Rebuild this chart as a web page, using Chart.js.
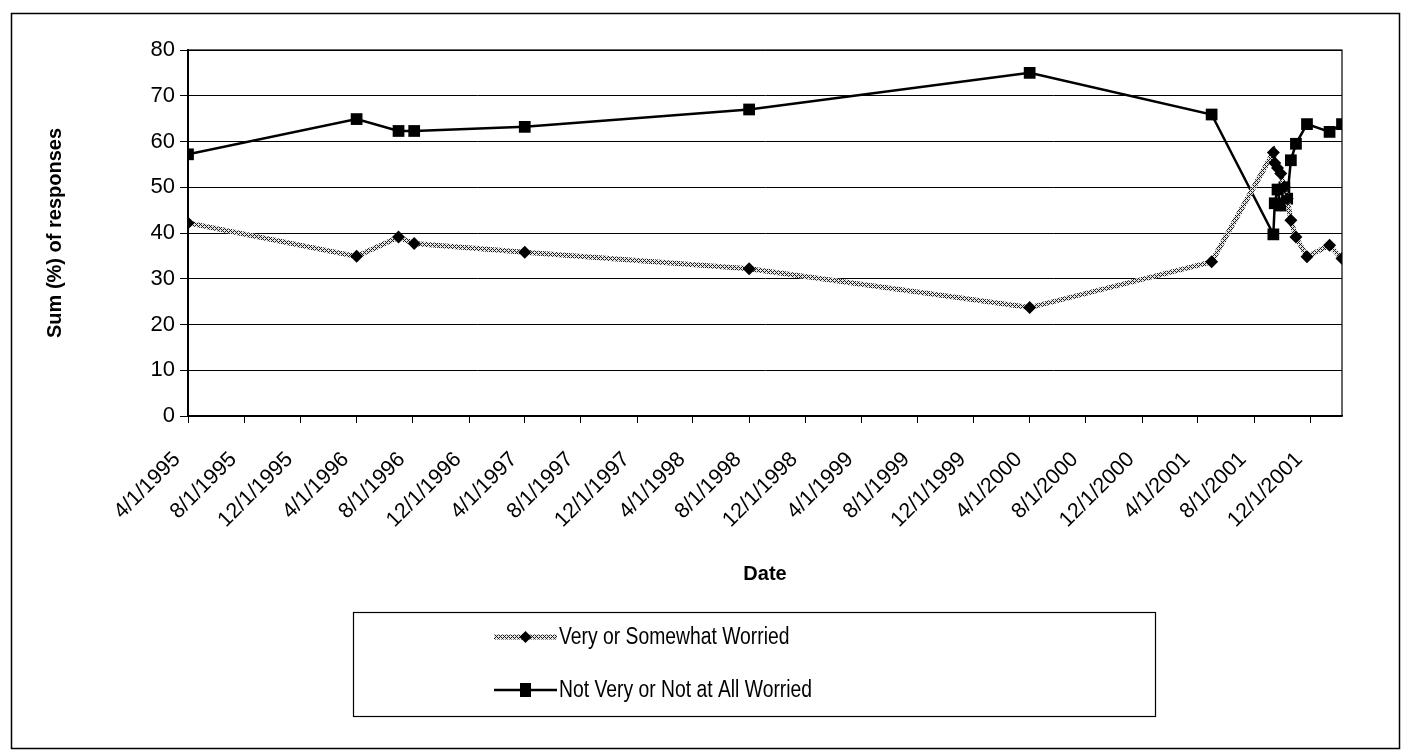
<!DOCTYPE html>
<html>
<head>
<meta charset="utf-8">
<script src="https://cdn.jsdelivr.net/npm/chart.js@4.4.1/dist/chart.umd.min.js"></script>
<style>
  html, body { margin: 0; padding: 0; background: #fff; }
  #wrap { width: 1406px; height: 756px; position: relative; }
</style>
</head>
<body>
<div id="wrap"><canvas id="c" width="1406" height="756"></canvas></div>
<script>
// Survey dates (M/D/YYYY)
const surveyDates = [
  '4/1/1995', '4/1/1996', '7/1/1996', '8/4/1996', '4/1/1997', '8/1/1998',
  '4/1/2000', '5/1/2001', '9/12/2001', '9/15/2001', '9/21/2001', '9/28/2001',
  '10/6/2001', '10/12/2001', '10/20/2001', '10/31/2001', '11/24/2001',
  '1/12/2002', '2/8/2002'
];
// Share of respondents (%) per survey
const worried = [
  42.2, 34.9, 39.1, 37.7, 35.8, 32.2,
  23.7, 33.7, 57.6, 55.3, 54.2, 53.0,
  50.0, 47.5, 42.8, 39.1, 34.8,
  37.3, 34.4
];
const notWorried = [
  57.2, 64.9, 62.3, 62.3, 63.2, 67.0,
  75.0, 65.9, 39.7, 46.5, 49.5, 46.0,
  50.0, 47.5, 55.9, 59.5, 63.8,
  62.1, 63.8
];
const seriesNames = ['Very or Somewhat Worried', 'Not Very or Not at All Worried'];
// Axis tick labels
const dateTicks = [
  '4/1/1995', '8/1/1995', '12/1/1995', '4/1/1996', '8/1/1996', '12/1/1996',
  '4/1/1997', '8/1/1997', '12/1/1997', '4/1/1998', '8/1/1998', '12/1/1998',
  '4/1/1999', '8/1/1999', '12/1/1999', '4/1/2000', '8/1/2000', '12/1/2000',
  '4/1/2001', '8/1/2001', '12/1/2001'
];
const yMin = 0, yMax = 80, yStep = 10;
const yTitle = 'Sum (%) of responses';
const xTitle = 'Date';

const FONT = "'Liberation Sans', Arial, Helvetica, sans-serif";

function toDay(s) {
  const [m, d, y] = s.split('/').map(Number);
  return Date.UTC(y, m - 1, d) / 86400000;
}
function dayLabel(v) {
  const dt = new Date(v * 86400000);
  return (dt.getUTCMonth() + 1) + '/' + dt.getUTCDate() + '/' + dt.getUTCFullYear();
}

// Cross-hatched stroke for the "worried" line
function hatchPattern() {
  const pc = document.createElement('canvas');
  pc.width = 4; pc.height = 4;
  const g = pc.getContext('2d');
  g.fillStyle = '#e4e4e4';
  g.fillRect(0, 0, 4, 4);
  g.fillStyle = '#1a1a1a';
  for (let x = 0; x < 4; x++) {
    for (let y = 0; y < 4; y++) {
      if ((x + y) % 4 === 0 || (x - y + 4) % 4 === 0) g.fillRect(x, y, 1, 1);
    }
  }
  const ctx = document.createElement('canvas').getContext('2d');
  return ctx.createPattern(pc, 'repeat');
}
const hatch = hatchPattern();

const ptsWorried = surveyDates.map((d, i) => ({ x: toDay(d), y: worried[i] }));
const ptsNot = surveyDates.map((d, i) => ({ x: toDay(d), y: notWorried[i] }));

// Outer frame, plot frame, y title and boxed legend
const framePlugin = {
  id: 'frame',
  afterDraw(chart) {
    const ctx = chart.ctx;
    const a = chart.chartArea;
    ctx.save();
    ctx.strokeStyle = '#000';
    ctx.lineWidth = 1.5;
    ctx.strokeRect(11.5, 13.5, 1388, 735);
    ctx.lineWidth = 1.2;
    ctx.strokeRect(a.left, a.top, a.right - a.left, a.bottom - a.top);

    // vertical axis title, centred on the plot area
    ctx.save();
    ctx.translate(55, (a.top + a.bottom) / 2);
    ctx.rotate(-Math.PI / 2);
    ctx.font = "bold 20px " + FONT;
    ctx.fillStyle = '#000';
    ctx.textAlign = 'center';
    ctx.textBaseline = 'middle';
    ctx.fillText(yTitle, 0, 0);
    ctx.restore();

    // legend box
    const bx = 353, by = 612, bw = 802, bh = 104;
    ctx.lineWidth = 1.2;
    ctx.strokeStyle = '#000';
    ctx.strokeRect(bx + 0.5, by + 0.5, bw, bh);
    const rows = [637, 690];
    const x0 = 494, x1 = 557;
    chart.data.datasets.forEach((ds, i) => {
      const yy = rows[i];
      ctx.beginPath();
      ctx.moveTo(x0, yy); ctx.lineTo(x1, yy);
      ctx.strokeStyle = ds.borderColor;
      ctx.lineWidth = ds.borderWidth;
      ctx.stroke();
      const cx = (x0 + x1) / 2;
      ctx.fillStyle = '#000';
      ctx.beginPath();
      if (ds.pointStyle === 'rectRot') {
        const r = 6;
        ctx.moveTo(cx - r, yy); ctx.lineTo(cx, yy - r); ctx.lineTo(cx + r, yy); ctx.lineTo(cx, yy + r);
        ctx.closePath();
      } else {
        ctx.rect(cx - 5.5, yy - 7, 11, 14);
      }
      ctx.fill();
      ctx.save();
      ctx.translate(x1 + 2, yy + 1);
      ctx.scale(0.84, 1);
      ctx.font = "23px " + FONT;
      ctx.textBaseline = 'middle';
      ctx.textAlign = 'left';
      ctx.fillText(ds.label, 0, 0);
      ctx.restore();
    });
    ctx.restore();
  }
};

new Chart(document.getElementById('c'), {
  type: 'line',
  data: {
    datasets: [
      {
        label: seriesNames[0],
        data: ptsWorried,
        borderColor: hatch,
        borderWidth: 5,
        pointStyle: 'rectRot',
        pointRadius: 6.5,
        pointBackgroundColor: '#000',
        pointBorderColor: '#000',
        pointBorderWidth: 0,
        tension: 0
      },
      {
        label: seriesNames[1],
        data: ptsNot,
        borderColor: '#000',
        borderWidth: 2.5,
        pointStyle: 'rect',
        pointRadius: 8.3,
        pointBackgroundColor: '#000',
        pointBorderColor: '#000',
        pointBorderWidth: 0,
        tension: 0
      }
    ]
  },
  options: {
    responsive: false,
    animation: false,
    events: [],
    layout: { padding: { left: 105, top: 50, right: 64, bottom: 170 } },
    plugins: {
      legend: { display: false },
      tooltip: { enabled: false }
    },
    scales: {
      x: {
        type: 'linear',
        min: toDay(surveyDates[0]),
        max: toDay(surveyDates[surveyDates.length - 1]),
        afterBuildTicks(scale) {
          scale.ticks = dateTicks.map(t => ({ value: toDay(t) }));
        },
        afterFit(scale) { scale.height = 170; },
        grid: { drawOnChartArea: false, drawTicks: true, tickLength: 7, color: '#000', lineWidth: 1 },
        border: { display: true, color: '#000', width: 1.5 },
        ticks: {
          autoSkip: false,
          minRotation: 45,
          maxRotation: 45,
          padding: 24,
          labelOffset: -11,
          color: '#000',
          font: { family: FONT, size: 21.5 },
          callback: (v) => dayLabel(v)
        },
        title: {
          display: true,
          text: xTitle,
          color: '#000',
          padding: { top: 0, bottom: 0 },
          font: { family: FONT, size: 20, weight: 'bold' }
        }
      },
      y: {
        min: yMin,
        max: yMax,
        afterFit(scale) { scale.width = 83; },
        ticks: {
          stepSize: yStep,
          padding: 5,
          color: '#000',
          font: { family: FONT, size: 22 }
        },
        grid: { color: '#000', lineWidth: 1, tickLength: 8 },
        border: { display: true, color: '#000', width: 2 },
        title: { display: false }
      }
    }
  },
  plugins: [framePlugin]
});
</script>
</body>
</html>
